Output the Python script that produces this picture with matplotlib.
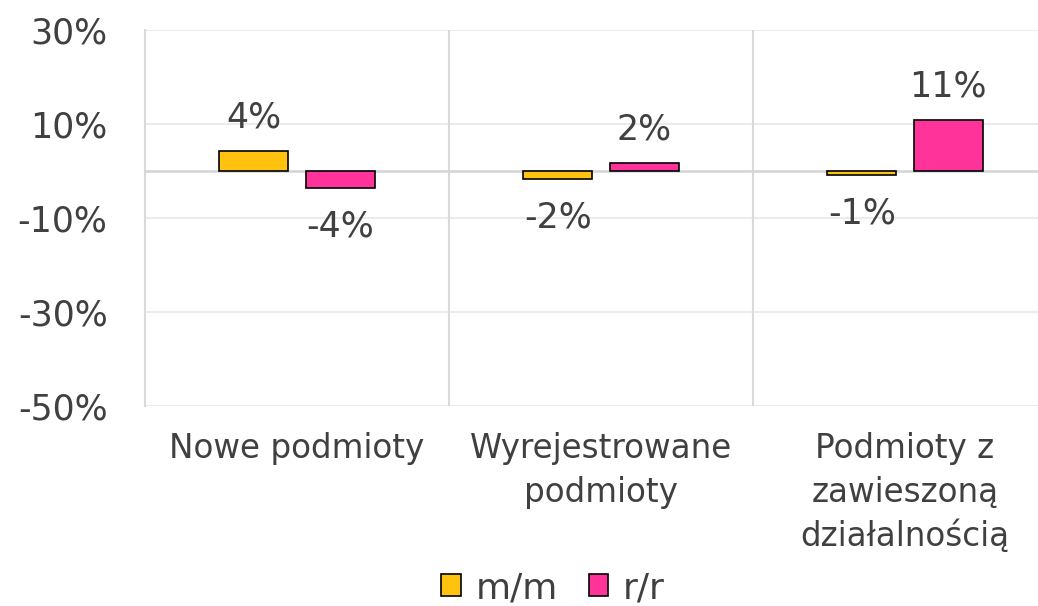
import matplotlib.pyplot as plt
import numpy as np

kategorie = ["Nowe podmioty", "Wyrejestrowane\npodmioty", "Podmioty z\nzawieszoną\ndziałalnością"]
mm = [4.3, -1.7, -0.8]
rr = [-3.6, 1.7, 10.8]
y_ticki = [30, 10, -10, -30, -50]

kolor_mm = "#FFC20E"
kolor_rr = "#FF3399"
szary_tekst = "#404040"

plt.rcParams['font.family'] = ['DejaVu Sans']

fig = plt.figure(figsize=(10.38, 6.06), dpi=100)
ax = fig.add_axes([145 / 1038, 1 - 406 / 606, 912 / 1038, 376 / 606])

x = np.arange(len(kategorie))
szer = 0.227
off = 0.1415
b1 = ax.bar(x - off, mm, szer, color=kolor_mm, edgecolor="black", linewidth=1.2, label="m/m", zorder=3)
b2 = ax.bar(x + off, rr, szer, color=kolor_rr, edgecolor="black", linewidth=1.2, label="r/r", zorder=3)

# etykiety wartości
for bars, vals in ((b1, mm), (b2, rr)):
    for b, v in zip(bars, vals):
        cx = b.get_x() + b.get_width() / 2
        dy = 24 if v >= 0 else -28
        ax.annotate(f"{round(v):.0f}%", (cx, v), xytext=(0, dy), textcoords="offset points",
                    ha="center", va="center", fontsize=25, color=szary_tekst)

ax.set_xlim(-0.5, 2.5)
ax.set_ylim(-50, 30)
ax.set_yticks(y_ticki)
ax.set_yticklabels([f"{t}%" for t in y_ticki], fontsize=25, color=szary_tekst)
ax.set_xticks(x)
ax.set_xticklabels(kategorie, fontsize=23.5, color=szary_tekst, linespacing=1.4)
ax.tick_params(axis="x", length=0, pad=19)
ax.tick_params(axis="y", length=0, pad=27)

for t in y_ticki:
    ax.axhline(t, color="#ebebeb", linewidth=1.5, zorder=1)
ax.axhline(0, color="#d4d4d4", linewidth=1.8, zorder=2)
for s in (0.5, 1.5):
    ax.axvline(s, color="#d9d9d9", linewidth=1.5, zorder=1)

for sp in ("top", "right", "bottom"):
    ax.spines[sp].set_visible(False)
ax.spines["left"].set_color("#d9d9d9")
ax.spines["left"].set_linewidth(1.5)

fig.legend(loc="center", bbox_to_anchor=(553 / 1038, 1 - 588 / 606), ncol=2, frameon=False,
           fontsize=26, handlelength=0.55, handleheight=0.55, handletextpad=0.4, columnspacing=0.85,
           labelcolor=szary_tekst)

fig.savefig("out.png", dpi=100)
